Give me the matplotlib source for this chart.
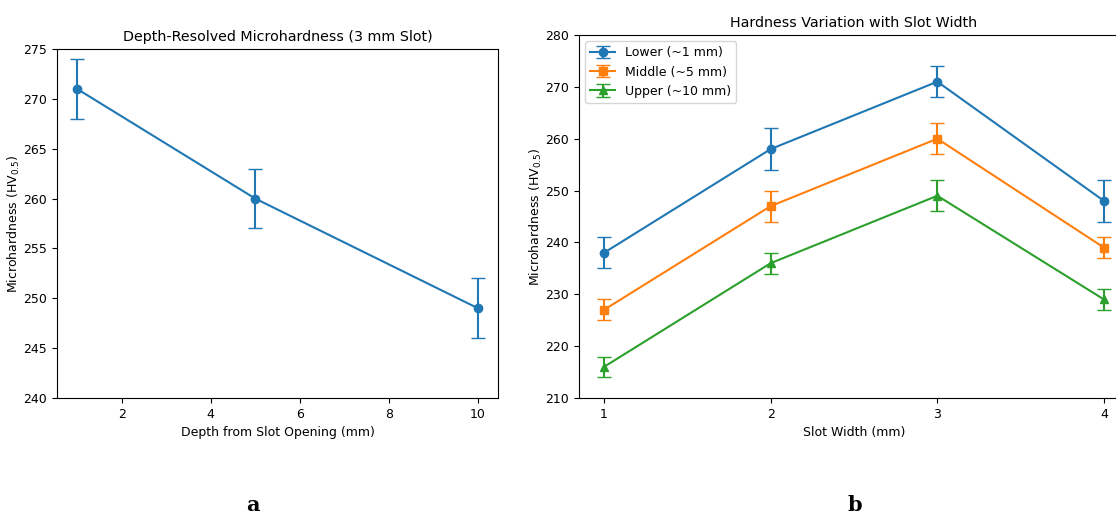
import matplotlib
matplotlib.use("Agg")
from matplotlib import pyplot as plt

# Panel a: depth-resolved microhardness, 3 mm slot
depth = [1, 5, 10]
hv_depth = [271, 260, 249]
hv_depth_err = [3, 3, 3]

# Panel b: hardness vs slot width
slot_width = [1, 2, 3, 4]
hv_lower = [238, 258, 271, 248]
hv_lower_err = [3, 4, 3, 4]
hv_middle = [227, 247, 260, 239]
hv_middle_err = [2, 3, 3, 2]
hv_upper = [216, 236, 249, 229]
hv_upper_err = [2, 2, 3, 2]

W, H = 1116, 515
fig = plt.figure(figsize=(W / 100, H / 100), dpi=100)

def px_axes(x0, y0, x1, y1):
    # axes from pixel box (top-left origin)
    return fig.add_axes([x0 / W, 1 - y1 / H, (x1 - x0) / W, (y1 - y0) / H])

fs_tick = 9
fs_label = 9
fs_title = 10.3
ylab = "Microhardness (HV$_{0.5}$)"

# panel a
ax1 = px_axes(57, 49, 498, 398)
ax1.errorbar(depth, hv_depth, yerr=hv_depth_err, color="#1f77b4", marker="o",
             capsize=5, markersize=6, linewidth=1.5)
ax1.set_ylim(240, 275)
ax1.set_yticks(range(240, 276, 5))
ax1.set_xticks([2, 4, 6, 8, 10])
ax1.set_xlabel("Depth from Slot Opening (mm)", fontsize=fs_label)
ax1.set_ylabel(ylab, fontsize=fs_label, labelpad=1)
ax1.set_title("Depth-Resolved Microhardness (3 mm Slot)", fontsize=fs_title)
ax1.tick_params(labelsize=fs_tick)

# panel b (right edge runs past the figure, as in the reference crop)
ax2 = px_axes(579, 35, 1129, 398)
ax2.errorbar(slot_width, hv_lower, yerr=hv_lower_err, color="#1f77b4", marker="o",
             capsize=5, markersize=6, linewidth=1.5, label="Lower (~1 mm)")
ax2.errorbar(slot_width, hv_middle, yerr=hv_middle_err, color="#ff7f0e", marker="s",
             capsize=5, markersize=6, linewidth=1.5, label="Middle (~5 mm)")
ax2.errorbar(slot_width, hv_upper, yerr=hv_upper_err, color="#2ca02c", marker="^",
             capsize=5, markersize=6, linewidth=1.5, label="Upper (~10 mm)")
ax2.set_ylim(210, 280)
ax2.set_yticks(range(210, 281, 10))
ax2.set_xticks(slot_width)
ax2.set_xlabel("Slot Width (mm)", fontsize=fs_label)
ax2.set_ylabel(ylab, fontsize=fs_label, labelpad=1)
ax2.set_title("Hardness Variation with Slot Width", fontsize=fs_title)
ax2.tick_params(labelsize=fs_tick)
ax2.legend(loc="upper left", fontsize=fs_label)

# sub-figure letters
fig.text(253 / W, 1 - 505 / H, "a", fontsize=15, fontweight="bold",
         family="DejaVu Serif", ha="center", va="center")
fig.text(855 / W, 1 - 505 / H, "b", fontsize=15, fontweight="bold",
         family="DejaVu Serif", ha="center", va="center")

fig.savefig("out.png", dpi=100)
